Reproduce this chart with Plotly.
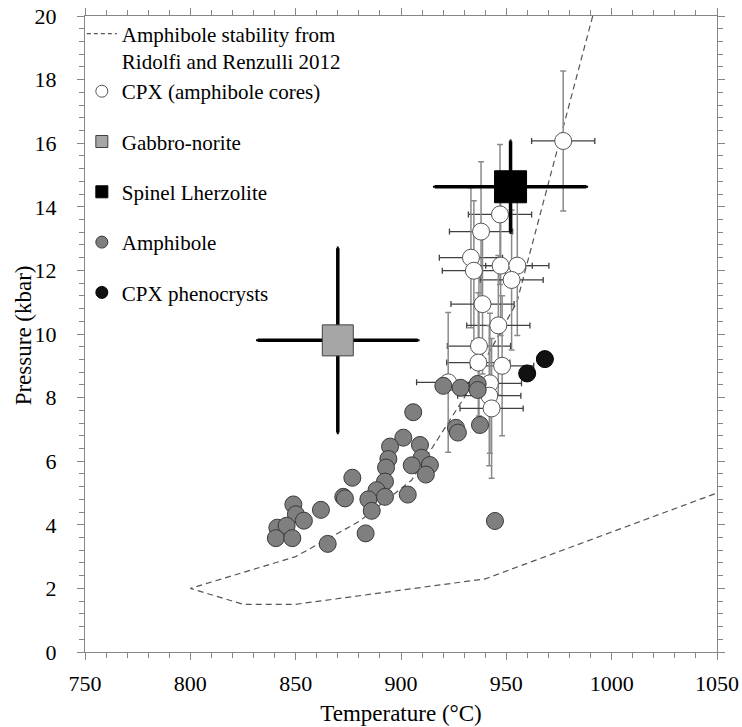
import plotly.graph_objects as go

# Amphibole stability (Ridolfi and Renzulli 2012)
stab_T = [991, 955, 930, 905, 880, 850, 800, 825, 850, 940, 1050]
stab_P = [20, 11.0, 8.0, 5.4, 4.1, 3.0, 2.0, 1.5, 1.5, 2.3, 5.0]

# CPX (amphibole cores)
cpx_core_T = [977.0, 947.0, 938.0, 933.2, 934.6, 947.3, 955.2, 952.5, 938.7, 946.2,
              937.0, 936.7, 948.0, 942.2, 922.4, 941.9, 943.0]
cpx_core_P = [16.07, 13.76, 13.22, 12.40, 11.99, 12.15, 12.15, 11.70, 10.94, 10.27,
              9.62, 9.10, 9.00, 8.45, 8.48, 8.06, 7.66]
cpx_core_Terr = [15] * 17
cpx_core_Perr = [2.2] * 17

# Gabbro-norite
gab_T = [870]
gab_P = [9.8]
gab_Terr = [38]
gab_Perr = [2.9]

# Spinel Lherzolite
spl_T = [952]
spl_P = [14.63]
spl_Terr = [36]
spl_Perr = [1.43]

# Amphibole
amph_T = [920.1, 928.3, 936.4, 936.4, 905.8, 926.1, 927.0, 937.5, 901.1, 894.8,
          909.0, 894.0, 892.9, 909.8, 905.1, 913.7, 911.8, 876.9, 892.4, 888.4,
          892.4, 903.2, 884.5, 872.6, 873.4, 886.1, 862.0, 848.9, 850.1, 853.9,
          841.3, 845.7, 840.6, 848.4, 865.2, 883.2, 944.6]
amph_P = [8.37, 8.31, 8.43, 8.24, 7.54, 7.05, 6.90, 7.14, 6.74, 6.46,
          6.51, 6.07, 5.80, 6.11, 5.87, 5.88, 5.58, 5.48, 5.36, 5.09,
          4.88, 4.95, 4.80, 4.88, 4.83, 4.44, 4.47, 4.64, 4.33, 4.13,
          3.91, 3.97, 3.58, 3.58, 3.40, 3.73, 4.12]

# CPX phenocrysts
phen_T = [968.3, 959.9]
phen_P = [9.21, 8.76]

FONT = "Liberation Serif"

X_TITLE = "Temperature (°C)"
Y_TITLE = "Pressure (kbar)"
STAB_NAME = "Amphibole stability from<br>Ridolfi and Renzulli 2012"
CORE_NAME = "CPX (amphibole cores)"
GAB_NAME = "Gabbro-norite"
SPL_NAME = "Spinel Lherzolite"
AMPH_NAME = "Amphibole"
PHEN_NAME = "CPX phenocrysts"

stab_line = dict(color="#555555", width=1.2, dash="6px,4px")
stab_key_line = dict(color="#555555", width=1.2, dash="4px,3px")
core_marker = dict(symbol="circle", color="white", line=dict(color="#555555", width=1))
gab_marker = dict(symbol="square", color="#a6a6a6", line=dict(color="#404040", width=1))
spl_marker = dict(symbol="square", color="black", line=dict(color="black", width=1))
amph_marker = dict(symbol="circle", color="#7f7f7f", line=dict(color="#3a3a3a", width=1))
phen_marker = dict(symbol="circle", color="#111111", line=dict(color="#000000", width=1))

fig = go.Figure()

# ---- data traces (legend handled by key traces below) ----
fig.add_trace(go.Scatter(x=stab_T, y=stab_P, mode="lines", name=STAB_NAME,
                         line=stab_line, showlegend=False))

fig.add_trace(go.Scatter(
    x=cpx_core_T, y=cpx_core_P, mode="markers", name=CORE_NAME, showlegend=False,
    marker=dict(size=17, **core_marker),
    error_x=dict(type="data", array=cpx_core_Terr, color="#404040", thickness=1.3, width=3),
    error_y=dict(type="data", array=cpx_core_Perr, color="#8a8a8a", thickness=1.5, width=3)))

fig.add_trace(go.Scatter(
    x=gab_T, y=gab_P, mode="markers", name=GAB_NAME, showlegend=False,
    marker=dict(size=31, **gab_marker),
    error_x=dict(type="data", array=gab_Terr, color="black", thickness=3.5, width=1),
    error_y=dict(type="data", array=gab_Perr, color="black", thickness=3.5, width=1)))

fig.add_trace(go.Scatter(
    x=spl_T, y=spl_P, mode="markers", name=SPL_NAME, showlegend=False,
    marker=dict(size=32, **spl_marker),
    error_x=dict(type="data", array=spl_Terr, color="black", thickness=3.5, width=1),
    error_y=dict(type="data", array=spl_Perr, color="black", thickness=3.5, width=1)))

fig.add_trace(go.Scatter(x=amph_T, y=amph_P, mode="markers", name=AMPH_NAME,
                         showlegend=False, marker=dict(size=17, **amph_marker)))

fig.add_trace(go.Scatter(x=phen_T, y=phen_P, mode="markers", name=PHEN_NAME,
                         showlegend=False, marker=dict(size=17, **phen_marker)))

# ---- legend keys (no data drawn) ----
fig.add_trace(go.Scatter(x=[None], y=[None], mode="lines", name=STAB_NAME,
                         line=stab_key_line, legendgroup="a"))
fig.add_trace(go.Scatter(x=[None], y=[None], mode="markers", name=CORE_NAME,
                         marker=dict(size=12, **core_marker), legendgroup="a"))
fig.add_trace(go.Scatter(x=[None], y=[None], mode="markers", name=GAB_NAME,
                         marker=dict(size=12, **gab_marker), legendgroup="b"))
fig.add_trace(go.Scatter(x=[None], y=[None], mode="markers", name=SPL_NAME,
                         marker=dict(size=12, **spl_marker), legendgroup="c"))
fig.add_trace(go.Scatter(x=[None], y=[None], mode="markers", name=AMPH_NAME,
                         marker=dict(size=12, **amph_marker), legendgroup="d"))
fig.add_trace(go.Scatter(x=[None], y=[None], mode="markers", name=PHEN_NAME,
                         marker=dict(size=12, **phen_marker), legendgroup="e"))

axis_common = dict(
    showline=True, linecolor="#868686", linewidth=1.3, mirror="ticks",
    ticks="outside", tickcolor="#868686", ticklen=7, tickwidth=1.3,
    showgrid=False, zeroline=False, automargin=False,
    tickfont=dict(family=FONT, size=22, color="black"),
)

fig.update_layout(
    width=742, height=727,
    margin=dict(l=85, r=25, t=16, b=75),
    paper_bgcolor="white", plot_bgcolor="white",
    font=dict(family=FONT, size=21, color="black"),
    xaxis=dict(range=[750, 1050], dtick=50, tick0=750, ticklabelstandoff=4,
               minor=dict(dtick=10, ticks="outside", ticklen=5, tickcolor="#868686", tickwidth=1.2),
               title=dict(text=X_TITLE, font=dict(family=FONT, size=23), standoff=10),
               **axis_common),
    yaxis=dict(range=[0, 20], dtick=2, tick0=0, ticklabelstandoff=16,
               minor=dict(dtick=0.4, ticks="outside", ticklen=5, tickcolor="#868686", tickwidth=1.2),
               **axis_common),
    annotations=[dict(text=Y_TITLE, xref="paper", yref="paper",
                      x=-0.098, y=0.498, xanchor="center", yanchor="middle",
                      textangle=-90, showarrow=False,
                      font=dict(family=FONT, size=23, color="black"))],
    legend=dict(x=-0.005, y=1.004, xanchor="left", yanchor="top",
                bgcolor="rgba(0,0,0,0)", borderwidth=0,
                font=dict(family=FONT, size=21, color="black"),
                traceorder="grouped", tracegroupgap=20, valign="top",
                itemsizing="trace"),
    showlegend=True,
)

fig.write_html("out.html")
